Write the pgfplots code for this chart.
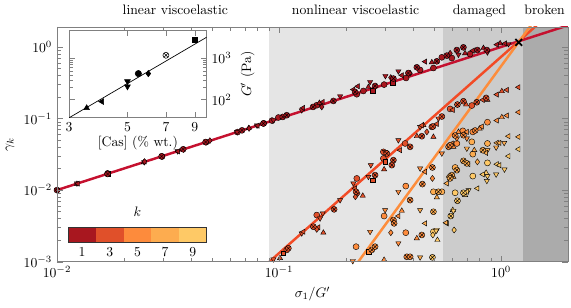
\documentclass[border=0pt]{standalone}
\usepackage{pgfplots}
\pgfplotsset{compat=1.18}
\usepackage{pgfplotstable}
\usetikzlibrary{calc}
\definecolor{kA}{HTML}{A8171F}
\definecolor{kB}{HTML}{E0502A}
\definecolor{kC}{HTML}{FD8B3C}
\definecolor{kD}{HTML}{FDAC4F}
\definecolor{kE}{HTML}{FEC966}
\definecolor{lA}{HTML}{C5112F}
\definecolor{lB}{HTML}{F24B26}
\definecolor{lC}{HTML}{FD8D3C}

\pgfplotstableread{
x y s
0.0100 0.0100 1
0.0100 0.0101 3
0.0101 0.0099 6
0.0123 0.0122 2
0.0123 0.0124 3
0.0124 0.0123 4
0.0169 0.0168 7
0.0169 0.0171 1
0.0170 0.0169 5
0.0247 0.0246 3
0.0248 0.0250 6
0.0246 0.0244 2
0.0296 0.0297 7
0.0297 0.0294 1
0.0349 0.0350 3
0.0351 0.0348 4
0.0370 0.0372 7
0.0372 0.0369 6
0.0467 0.0469 7
0.0469 0.0466 1
0.0488 0.0491 6
0.0647 0.0650 3
0.0650 0.0646 1
0.0681 0.0684 7
0.0730 0.0733 2
0.0733 0.0728 6
0.0796 0.0800 3
0.0800 0.0795 4
0.0853 0.0858 7
0.0930 0.0935 1
0.0850 0.0851 7
0.0943 0.0946 3
0.0993 0.1033 1
0.1039 0.1052 7
0.1083 0.1112 7
0.1265 0.1306 3
0.1283 0.1406 4
0.1423 0.1452 7
0.1478 0.1533 1
0.1519 0.1651 2
0.1573 0.1704 4
0.1557 0.1452 6
0.1757 0.1760 7
0.1883 0.2047 3
0.2161 0.2538 4
0.2199 0.2350 7
0.2239 0.2183 1
0.2262 0.2821 4
0.2397 0.2427 1
0.2525 0.2758 2
0.2570 0.3239 3
0.2643 0.2427 5
0.2706 0.2849 7
0.2972 0.2979 1
0.3012 0.3926 3
0.3253 0.3137 5
0.3272 0.3614 7
0.3185 0.3730 6
0.3446 0.4567 3
0.3570 0.4018 4
0.3733 0.3683 1
0.3823 0.4325 7
0.3891 0.4283 6
0.4172 0.5194 7
0.4316 0.4764 1
0.4547 0.6237 4
0.4874 0.6098 2
0.4955 0.5078 1
0.5134 0.6298 7
0.5407 0.7161 1
0.5693 0.7563 7
0.5892 0.8144 6
0.5996 0.7001 1
0.6318 0.9054 7
0.6424 0.7809 3
0.6763 0.9872 7
0.6882 0.8144 2
0.7250 0.7962 1
0.7455 0.8879 4
0.7818 0.9054 7
0.8323 0.9654 2
0.8622 0.9054 7
0.8676 0.8408 3
0.9563 1.077 4
0.9897 1.1225 2
1.042 1.120 4
1.079 1.098 3
}\kone

\pgfplotstableread{
x y s
0.0943 0.00108 3
0.1010 0.00112 2
0.1045 0.00131 5
0.1101 0.00154 7
0.1083 0.00146 1
0.1265 0.00249 3
0.1287 0.00262 4
0.1427 0.00308 7
0.1478 0.00283 6
0.1503 0.00302 4
0.1583 0.00254 2
0.1478 0.00448 1
0.1530 0.00403 3
0.1573 0.00473 3
0.1770 0.00538 7
0.1883 0.00725 3
0.2161 0.0124 3
0.2199 0.01056 4
0.2222 0.00947 7
0.2262 0.00899 6
0.2239 0.01456 1
0.2382 0.00833 2
0.2206 0.00806 6
0.2525 0.01533 3
0.2643 0.01379 5
0.2706 0.0162 7
0.2589 0.02233 3
0.2972 0.01945 2
0.2950 0.02768 1
0.3003 0.02481 5
0.3272 0.0262 7
0.3220 0.02233 7
0.3003 0.03421 3
0.2950 0.0342 1
0.3056 0.0325 7
0.3446 0.0498 3
0.3695 0.0448 1
0.3891 0.0402 7
0.3508 0.0361 4
0.4172 0.0566 2
0.4393 0.0566 7
0.4316 0.0764 3
0.4467 0.0807 2
0.4393 0.0801 4
0.4628 0.0650 6
0.4874 0.0764 1
0.4955 0.0554 2
0.4925 0.0773 7
0.5134 0.0841 4
0.5407 0.1066 7
0.5220 0.1000 3
0.5892 0.1361 1
0.6059 0.1318 4
0.6358 0.1568 7
0.6763 0.1743 7
0.6954 0.1568 2
0.7379 0.1518 1
0.7770 0.1688 7
0.8272 0.1818 4
0.8558 0.1939 7
0.8676 0.1818 2
0.9563 0.2161 4
1.007 0.2403 2
1.061 0.2506 4
1.197 0.2733 4
}\kthree

\pgfplotstableread{
x y s
0.2222 0.00162 1
0.2148 0.00102 3
0.2570 0.00262 3
0.2525 0.00138 5
0.2616 0.00146 7
0.2706 0.00162 7
0.2972 0.00106 2
0.3003 0.00526 3
0.2972 0.00434 1
0.3272 0.00382 7
0.3296 0.00343 7
0.3185 0.00254 6
0.3446 0.00434 4
0.3570 0.00514 2
0.3721 0.00254 1
0.3446 0.00181 3
0.3721 0.01137 1
0.3446 0.00947 3
0.3760 0.00117 7
0.3891 0.00725 7
0.4172 0.00212 2
0.4393 0.00236 7
0.3891 0.00117 7
0.4316 0.0201 3
0.4547 0.0180 4
0.4420 0.01213 7
0.4905 0.01456 6
0.4905 0.0207 7
0.5407 0.0325 3
0.5800 0.0402 7
0.5892 0.0424 7
0.5996 0.0448 4
0.6097 0.0402 2
0.6207 0.0579 7
0.6318 0.0448 1
0.6318 0.0527 3
0.6424 0.0650 2
0.6722 0.0672 1
0.6763 0.0585 7
0.7007 0.0527 3
0.7007 0.0650 4
0.7455 0.0650 1
0.7638 0.0680 7
0.8006 0.0723 2
0.8187 0.0773 4
0.8676 0.0888 1
0.9563 0.0938 4
1.007 0.1042 2
1.061 0.1101 4
1.197 0.1224 4
}\kfive

\pgfplotstableread{
x y s
0.4316 0.00115 3
0.4316 0.00526 3
0.4547 0.00343 4
0.4955 0.00498 7
0.4955 0.00947 1
0.5220 0.00947 7
0.5407 0.00947 1
0.5134 0.00791 2
0.5652 0.0035 4
0.5693 0.0124 4
0.5996 0.0162 7
0.6097 0.0153 2
0.5892 0.01456 7
0.5800 0.0153 6
0.6207 0.0207 1
0.6318 0.0190 7
0.6763 0.0256 7
0.6882 0.0248 2
0.7007 0.0236 7
0.7128 0.0230 4
0.7818 0.0248 6
0.7455 0.0318 1
0.7379 0.0472 1
0.7007 0.0381 3
0.7570 0.0361 2
0.8272 0.0361 7
0.8323 0.0353 2
0.8558 0.0331 4
0.8676 0.0361 3
0.8676 0.0448 1
0.9495 0.0394 3
0.9563 0.0457 4
0.9824 0.0457 4
1.032 0.0457 3
1.079 0.0566 4
1.197 0.0554 4
}\kseven

\pgfplotstableread{
x y s
0.4905 0.00115 7
0.4955 0.00262 1
0.5134 0.00277 3
0.5095 0.00270 3
0.5165 0.00201 2
0.4925 0.00236 6
0.5693 0.00343 4
0.6141 0.00277 6
0.5934 0.00434 7
0.6059 0.00526 2
0.6097 0.00514 3
0.6358 0.00709 7
0.6207 0.00917 1
0.6763 0.00917 7
0.6882 0.00852 2
0.7007 0.00947 4
0.7128 0.0100 3
0.7818 0.01056 4
0.7455 0.0157 1
0.8272 0.01656 4
0.8558 0.01743 2
0.8676 0.0157 3
0.8622 0.01348 3
0.9495 0.01656 3
0.8676 0.0240 1
0.9563 0.0230 4
0.9824 0.0223 4
1.035 0.01945 3
1.079 0.0298 4
1.197 0.0373 4
}\knine

\pgfplotsset{
  mk/.style 2 args={only marks, mark size=2.2pt,
    mark options={fill=#1, draw=black, line width=0.3pt, rotate=#2}},
}
\newcommand{\kplots}[2]{%
  \addplot[mk={#2}{0}, mark=*, restrict expr to domain={\thisrow{s}}{0.5:1.5}] table[x=x,y=y] {#1};
  \addplot[mk={#2}{0}, mark=triangle*, restrict expr to domain={\thisrow{s}}{1.5:2.5}] table[x=x,y=y] {#1};
  \addplot[mk={#2}{180}, mark=triangle*, restrict expr to domain={\thisrow{s}}{2.5:3.5}] table[x=x,y=y] {#1};
  \addplot[mk={#2}{90}, mark=triangle*, restrict expr to domain={\thisrow{s}}{3.5:4.5}] table[x=x,y=y] {#1};
  \addplot[mk={#2}{0}, mark=square*, mark size=1.7pt, restrict expr to domain={\thisrow{s}}{4.5:5.5}] table[x=x,y=y] {#1};
  \addplot[mk={#2}{0}, mark=diamond*, restrict expr to domain={\thisrow{s}}{5.5:6.5}] table[x=x,y=y] {#1};
  \addplot[mk={#2}{0}, mark=otimes*, restrict expr to domain={\thisrow{s}}{6.5:7.5}] table[x=x,y=y] {#1};
}

\begin{document}
\begin{tikzpicture}
\begin{axis}[name=main, scale only axis, width=373pt, height=171.3pt,
  xmode=log, ymode=log, xmin=0.01, xmax=2, ymin=1e-3, ymax=1.9,
  axis on top, clip mode=individual,
  axis line style={draw=gray, line width=0.6pt}, tick style={gray},
  xtick={0.01,0.1,1}, ytick={0.001,0.01,0.1,1},
  xlabel={$\sigma_1/G'$}, ylabel={$\gamma_k$},
]
\addplot[fill=black!10, draw=none] coordinates {(0.09,1e-3) (0.09,1.9) (0.55,1.9) (0.55,1e-3)} -- cycle;
\addplot[fill=black!20, draw=none] coordinates {(0.55,1e-3) (0.55,1.9) (1.25,1.9) (1.25,1e-3)} -- cycle;
\addplot[fill=black!33, draw=none] coordinates {(1.25,1e-3) (1.25,1.9) (2,1.9) (2,1e-3)} -- cycle;
\addplot[lA, line width=1.8pt] coordinates {(0.01,0.01) (2,2)};
\addplot[lB, line width=1.8pt] coordinates {(0.0905,0.001) (1.445,2)};
\addplot[lC, line width=1.8pt] coordinates {(0.2275,0.001) (1.361,2)};
\kplots{\knine}{kE}
\kplots{\kseven}{kD}
\kplots{\kfive}{kC}
\kplots{\kthree}{kB}
\kplots{\kone}{kA}
\addplot[only marks, mark=x, mark size=3.5pt, line width=1.3pt, black] coordinates {(1.2,1.16)};
\node[anchor=base, yshift=8.9pt] at (rel axis cs:0.2316,1) {linear viscoelastic};
\node[anchor=base, yshift=8.9pt] at (rel axis cs:0.5843,1) {nonlinear viscoelastic};
\node[anchor=base, yshift=8.9pt] at (rel axis cs:0.8267,1) {damaged};
\node[anchor=base, yshift=8.9pt] at (rel axis cs:0.9543,1) {broken};
\end{axis}

\begin{axis}[at={($(main.south west)+(8.8pt,105pt)$)}, anchor=south west,
  scale only axis, width=100.5pt, height=64pt,
  xmode=log, ymode=log, xmin=3, xmax=10, ymin=36, ymax=4800,
  xtick={3,5,7,9}, xticklabels={3,5,7,9},
  ytick={100,1000}, yticklabel pos=right,
  axis background/.style={fill=white},
  axis line style={draw=gray, line width=0.6pt}, tick style={gray},
  xlabel={[Cas] (\% wt.)}, ylabel={$G'$ (Pa)},
  xlabel style={yshift=4pt},
]
\addplot[black, line width=0.5pt] coordinates {(3,36) (10,3240)};
\addplot[only marks, mark=triangle*, black, mark size=2.4pt] coordinates {(3.5,62)};
\addplot[only marks, mark=triangle*, black, mark size=2.4pt, mark options={rotate=90}] coordinates {(4,89)};
\addplot[only marks, mark=triangle*, black, mark size=2.4pt, mark options={rotate=180}] coordinates {(5,275) (5,206)};
\addplot[only marks, mark=*, black, mark size=2.3pt] coordinates {(5.5,425)};
\addplot[only marks, mark=diamond*, black, mark size=2.3pt] coordinates {(6,425)};
\addplot[only marks, mark=otimes*, black, mark size=2.2pt, mark options={fill=white, line width=0.4pt}] coordinates {(7,1180)};
\addplot[only marks, mark=square*, black, mark size=2pt] coordinates {(9,2800)};
\end{axis}

\begin{axis}[at={($(main.south west)+(8.25pt,14pt)$)}, anchor=south west,
  scale only axis, width=101pt, height=11.4pt,
  xmin=0, xmax=10, ymin=0, ymax=1, ytick=\empty, xtick={1,3,5,7,9},
  major tick length=0pt, axis on top,
  axis line style={draw=black!80, line width=0.5pt},
  title={$k$}, title style={yshift=-2pt},
]
\addplot[fill=kA, draw=none] coordinates {(0,0) (0,1) (2,1) (2,0)} -- cycle;
\addplot[fill=kB, draw=none] coordinates {(2,0) (2,1) (4,1) (4,0)} -- cycle;
\addplot[fill=kC, draw=none] coordinates {(4,0) (4,1) (6,1) (6,0)} -- cycle;
\addplot[fill=kD, draw=none] coordinates {(6,0) (6,1) (8,1) (8,0)} -- cycle;
\addplot[fill=kE, draw=none] coordinates {(8,0) (8,1) (10,1) (10,0)} -- cycle;
\end{axis}
\path ($(main.south west)+(-41.6pt,-33.1pt)$) rectangle ($(main.south west)+(375.2pt,191pt)$);
\end{tikzpicture}
\end{document}
